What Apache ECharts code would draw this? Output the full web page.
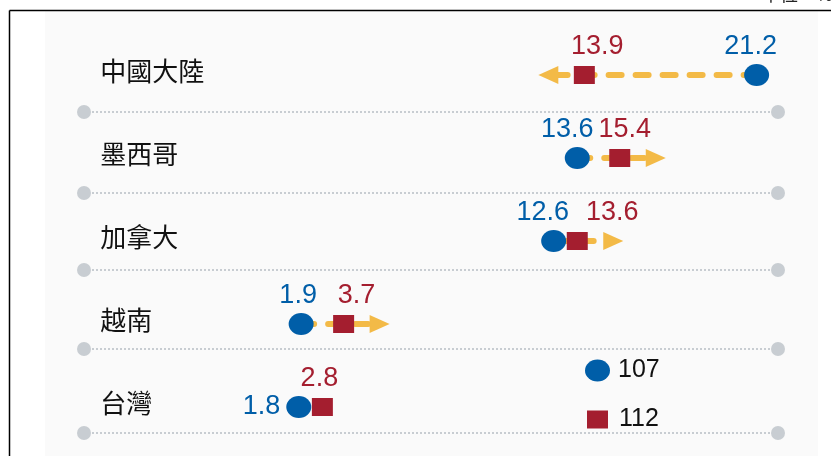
<!DOCTYPE html>
<html>
<head>
<meta charset="utf-8">
<script src="https://cdn.jsdelivr.net/npm/echarts@6/dist/echarts.min.js"></script>
<style>
html, body { margin: 0; padding: 0; background: #fff; }
#main { width: 831px; height: 456px; }
</style>
</head>
<body>
<div id="main"></div>
<script>
var countries = ['中國大陸', '墨西哥', '加拿大', '越南', '台灣'];
var share107 = [21.2, 13.6, 12.6, 1.9, 1.8];   // 107年
var share112 = [13.9, 15.4, 13.6, 3.7, 2.8];   // 112年
var hasArrow = [true, true, true, true, false];
var years = ['107', '112'];

var BLUE = '#005EA8', RED = '#A41E2F', GOLD = '#F3BA47', DOT = '#C8CDD2';
var ELLIPSE = 'path://M0,10A10,10 0 1 1 20,10A10,10 0 1 1 0,10Z';

// nudges so the numbers sit like the original (avoid collisions)
var shift107 = [-6, -10, -11, -3, 0];
var shift112 = [13, 5, 35, 13, -3];
var sepY = [112, 193, 270, 349, 433];

var chart = echarts.init(document.getElementById('main'));

function renderArrow(params, api) {
    var row = api.value(2);
    var a = api.coord([api.value(0), row]);
    var b = api.coord([api.value(1), row]);
    var dir = b[0] > a[0] ? 1 : -1;
    var tip = b[0] + dir * 46;
    var base = tip - dir * 20;
    var y = a[1];
    return {
        type: 'group',
        children: [
            {
                type: 'line',
                shape: { x1: a[0], y1: y, x2: base + dir * 2, y2: y },
                style: { stroke: GOLD, lineWidth: 6, lineDash: [13, 14], lineCap: 'round' }
            },
            {
                type: 'polygon',
                shape: { points: [[tip, y], [base, y - 9], [base, y + 9]] },
                style: { fill: GOLD }
            }
        ]
    };
}

// decorations: frame, panel, separators
var graphics = [
    { type: 'rect', shape: { x: 45, y: 11, width: 773, height: 445 }, style: { fill: '#FAFAFA' }, z: -10 },
    { type: 'line', shape: { x1: 9.5, y1: 10.5, x2: 831, y2: 10.5 }, style: { stroke: '#000', lineWidth: 1.5 } },
    { type: 'line', shape: { x1: 9.5, y1: 10.5, x2: 9.5, y2: 456 }, style: { stroke: '#000', lineWidth: 1.5 } },
    { type: 'text', left: 762, top: -15, style: { text: '單位：%', font: '18px "Noto Sans CJK TC"', fill: '#222' } }
];
for (var i = 0; i < sepY.length; i++) {
    graphics.push({ type: 'line', shape: { x1: 84, y1: sepY[i], x2: 778, y2: sepY[i] },
        style: { stroke: DOT, lineWidth: 2, lineDash: [2, 2] } });
    graphics.push({ type: 'circle', shape: { cx: 84, cy: sepY[i], r: 7 }, style: { fill: DOT } });
    graphics.push({ type: 'circle', shape: { cx: 778, cy: sepY[i], r: 7 }, style: { fill: DOT } });
}

var arrowData = [];
for (var k = 0; k < countries.length; k++) {
    if (hasArrow[k]) arrowData.push([share107[k], share112[k], k]);
}

var numFont = { fontSize: 27, fontFamily: 'Liberation Sans' };

var option = {
    animation: false,
    graphic: graphics,
    grid: { left: 256.3, right: 55.5, top: 33.5, bottom: 7.5 },
    xAxis: { type: 'value', min: 0, max: 22, show: false },
    yAxis: {
        type: 'category',
        data: countries,
        inverse: true,
        axisLine: { show: false },
        axisTick: { show: false },
        splitLine: { show: false },
        axisLabel: {
            align: 'left',
            margin: 156,
            formatter: '{c|{value}}',
            rich: {
                c: {
                    fontSize: 26,
                    color: '#111',
                    fontFamily: 'Noto Sans CJK TC',
                    lineHeight: 26,
                    padding: [0, 0, 7, 0]
                }
            }
        }
    },
    legend: [
        {
            data: [years[0]], left: 580, top: 353, itemWidth: 25, itemHeight: 22, icon: ELLIPSE,
            symbolKeepAspect: false,
            selectedMode: false,
            textStyle: { fontSize: 25, color: '#111', fontFamily: 'Liberation Sans', padding: [0, 0, 0, 3] }
        },
        {
            data: [years[1]], left: 582, top: 402, itemWidth: 21, itemHeight: 18, icon: 'rect',
            selectedMode: false,
            textStyle: { fontSize: 25, color: '#111', fontFamily: 'Liberation Sans', padding: [0, 0, 0, 6] }
        }
    ],
    series: [
        {
            type: 'custom',
            name: 'arrow',
            renderItem: renderArrow,
            encode: { x: [0, 1], y: 2 },
            data: arrowData,
            z: 1,
            silent: true
        },
        {
            name: years[0],
            type: 'scatter',
            symbol: ELLIPSE,
            symbolSize: [25, 22],
            symbolKeepAspect: false,
            itemStyle: { color: BLUE, opacity: 1 },
            z: 4,
            label: Object.assign({ show: true, position: 'top', distance: 4, color: BLUE }, numFont),
            data: share107.map(function (v, i) {
                var lbl = { offset: [shift107[i], 0] };
                if (!hasArrow[i]) { lbl.position = 'left'; lbl.distance = 6; }
                return { value: [v, i], label: lbl };
            })
        },
        {
            name: years[1],
            type: 'scatter',
            symbol: 'rect',
            symbolSize: [21, 18],
            itemStyle: { color: RED, opacity: 1 },
            z: 4,
            label: Object.assign({ show: true, position: 'top', distance: 6, color: RED }, numFont),
            data: share112.map(function (v, i) {
                return { value: [v, i], label: { offset: [shift112[i], 0] } };
            })
        }
    ]
};

chart.setOption(option);
</script>
</body>
</html>
